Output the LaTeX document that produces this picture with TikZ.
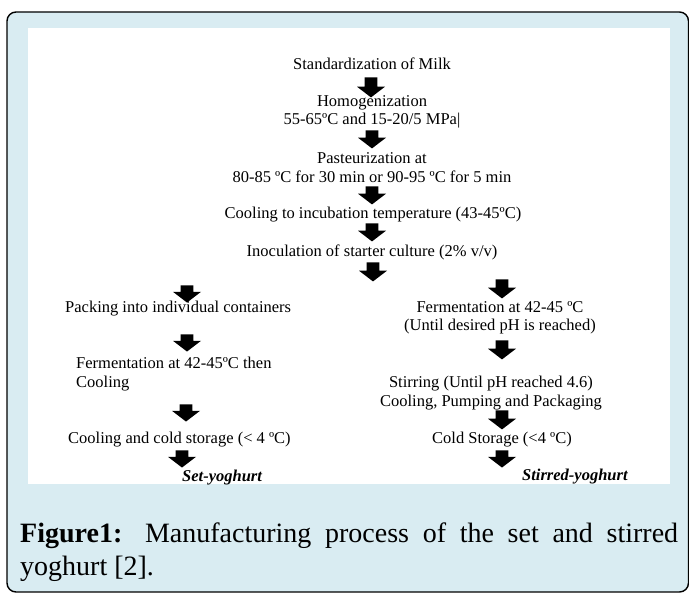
\documentclass[tikz,border=0pt]{standalone}
\usepackage{fontspec}
\setmainfont{Liberation Serif}
\usetikzlibrary{shapes.arrows}
\definecolor{capblue}{RGB}{217,236,242}
\tikzset{
  steptext/.style={font=\fontsize{16.5}{18.5}\selectfont, inner sep=0pt, align=center, yshift=-2pt},
  downarrow/.style={single arrow, fill=black, shape border rotate=270, inner sep=6pt,
    minimum width=28pt, single arrow head extend=7.5pt, single arrow tip angle=105},
  captext/.style={font=\fontsize{28}{33}\selectfont, inner sep=0pt, anchor=base west}
}
\begin{document}
\begin{tikzpicture}[x=1pt,y=-1pt]
            \useasboundingbox (0,0) rectangle (689,593);
            \draw[line width=1.4pt, fill=capblue, rounded corners=9pt] (7,12) rectangle (688.5,592);
            \fill[white] (28,28) rectangle (670,484);
            % main line
            \node[steptext] (milk) at (372,62) {Standardization of Milk};
            \node[steptext] (homog) at (372,110) {Homogenization\\55-65ºC and 15-20/5 MPa|};
            \node[steptext] (past) at (372,165.5) {Pasteurization at\\80-85 ºC for 30 min or 90-95 ºC for 5 min};
            \node[steptext] (cool) at (373,213) {Cooling to incubation temperature (43-45ºC)};
            \node[steptext] (inoc) at (372,250) {Inoculation of starter culture (2\% v/v)};
            % set yoghurt
            \node[steptext, anchor=west] (pack) at (65,307) {Packing into individual containers};
            \node[steptext, anchor=west, align=left] (fermset) at (76,372) {Fermentation at 42-45ºC then\\Cooling};
            \node[steptext, anchor=west] (coldset) at (68,438) {Cooling and cold storage (< 4 ºC)};
            \node[steptext, anchor=west] (setyog) at (182,476) {\bfseries\itshape Set-yoghurt};
            % stirred yoghurt
            \node[steptext] (fermstir) at (500,316) {Fermentation at 42-45 ºC\\ (Until desired pH is reached)};
            \node[steptext] (stir) at (491,391) {Stirring (Until pH reached 4.6)\\Cooling, Pumping and Packaging};
            \node[steptext] (coldstir) at (502,438) {Cold Storage (<4 ºC)};
            \node[steptext, anchor=west] (stiryog) at (522,475) {\bfseries\itshape Stirred-yoghurt};
            % block arrows
            \foreach \n/\x/\ya/\yb [evaluate=\ya as \ym using (\ya+\yb)/2,
                                    evaluate=\ya as \len using \yb-\ya] in
                {1/371/75/95, 2/372/128/146, 3/372/184/202, 4/372/221/239, 5/373/260/279,
                 6/187/283/300, 7/187/333/348, 8/186/403/418, 9/182/448/465,
                 10/502/277/296, 11/502/338/357, 12/502/408/427, 13/502/448/465}
                \node[downarrow, minimum height=\len pt] (arr\n) at (\x,\ym) {};
            % caption
            \node[captext] (cap1) at (20,543) {\makebox[658pt][s]{\textbf{Figure1:} Manufacturing process of the set and stirred}};
            \node[captext] (cap2) at (20,576) {yoghurt [2].};
        \end{tikzpicture}
\end{document}
